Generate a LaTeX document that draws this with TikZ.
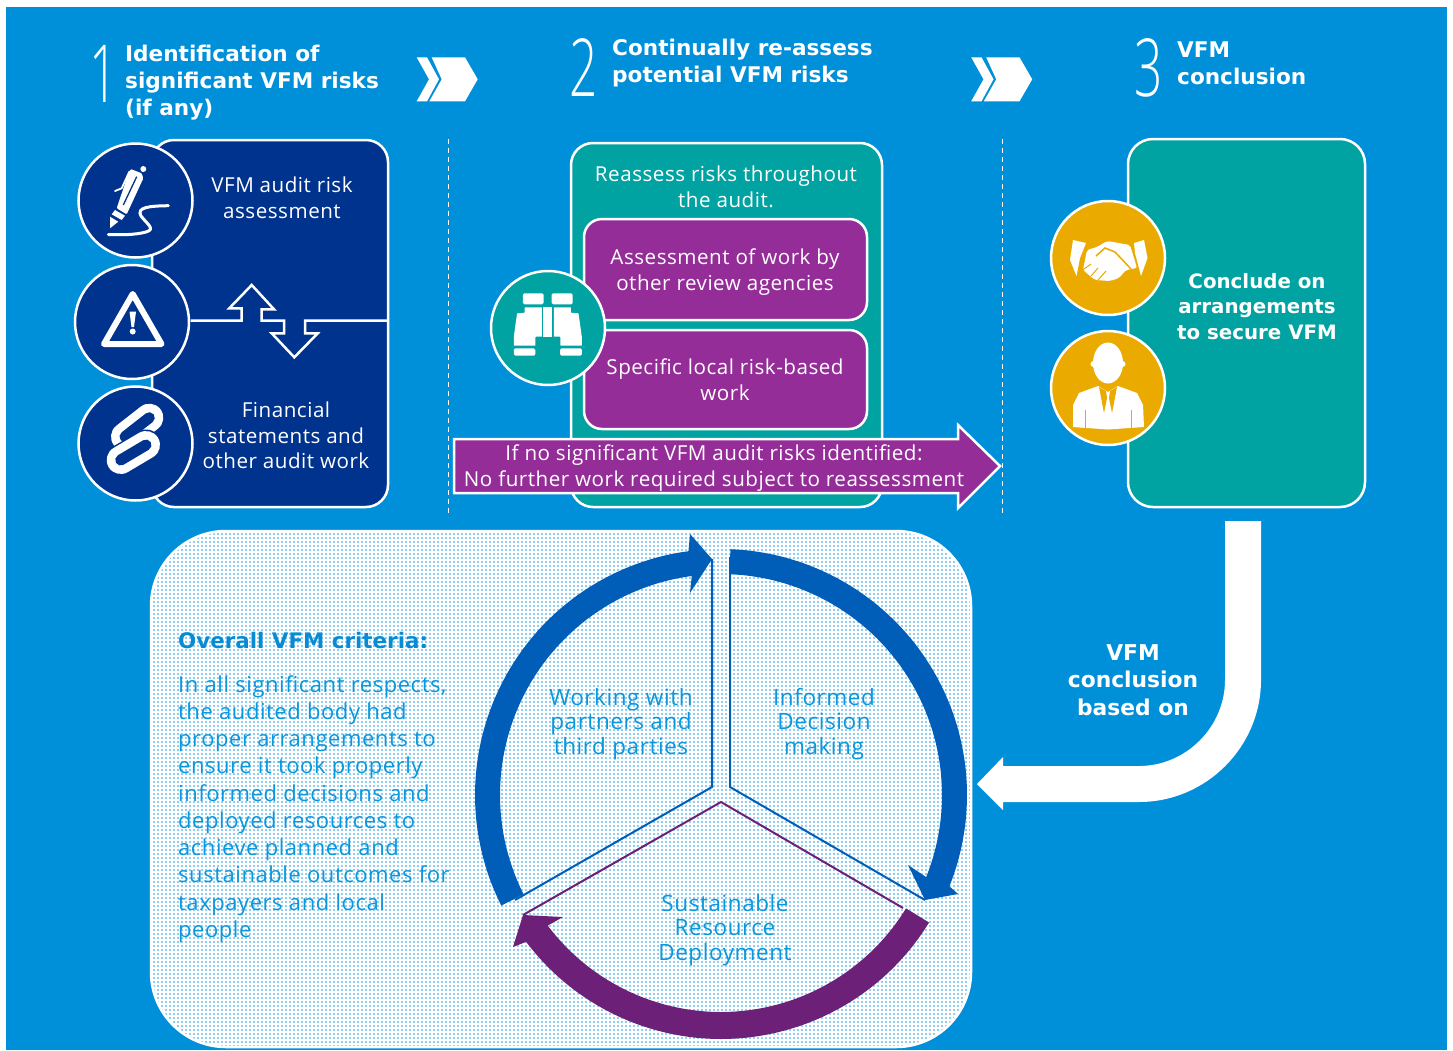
\documentclass[tikz,border=0pt]{standalone}
\usepackage{fontspec}
\setmainfont{Open Sans}[LetterSpace=2.5]
\newfontfamily\headfont{DejaVu Sans}[BoldFont={DejaVu Sans Bold}]
\newfontfamily\numfont{Open Sans Light}
\definecolor{bgblue}{HTML}{0090DA}
\definecolor{navy}{HTML}{00338D}
\definecolor{teal}{HTML}{00A3A1}
\definecolor{purp}{HTML}{952D98}
\definecolor{dpurp}{HTML}{6D2077}
\definecolor{ring}{HTML}{005EB8}
\definecolor{gold}{HTML}{EAAA00}
\definecolor{lblue}{HTML}{8FCDF2}
\definecolor{ltext}{HTML}{0A97DC}
\tikzset{
  bodytxt/.style={align=center,text=white,inner sep=0pt,font=\fontsize{20.6}{25.6}\selectfont},
  headtxt/.style={align=left,anchor=west,text=white,inner sep=0pt,font=\headfont\bfseries\fontsize{21.6}{27}\selectfont},
  boldtxt/.style={align=center,text=white,inner sep=0pt,font=\headfont\bfseries\fontsize{19.8}{25.6}\selectfont},
  numtxt/.style={text=white,inner sep=0pt,font=\numfont\fontsize{80}{80}\selectfont},
  cardbox/.style={draw=white,line width=2.5pt,rounded corners=22pt},
  badge/.style={circle,draw=white,line width=2.5pt,minimum size=114pt,inner sep=0pt},
  segtxt/.style={align=center,text=ltext,inner sep=0pt,font=\fontsize{22.5}{24.6}\selectfont},
  rail/.style={ring,line width=2pt},
  railp/.style={dpurp,line width=2pt},
  dashline/.style={white,line width=1pt,dash pattern=on 5pt off 4pt},
  chev/.style={fill=white,draw=none},
}
\begin{document}
\begin{tikzpicture}[x=1pt,y=-1pt]
\useasboundingbox (0,0) rectangle (1453,1050);
\fill[white] (0,0) rectangle (1453,1050);
\fill[bgblue] (6,7) rectangle (1447,1050);

% headings
\node[numtxt,xscale=.62] (n1) at (104,74) {1};
\node[headtxt] (h1) at (125,82.5) {Identification of\\significant VFM risks\\(if any)};
\node[numtxt,xscale=.62] (n2) at (584,68) {2};
\node[headtxt] (h2) at (612,63.5) {Continually re-assess\\potential VFM risks};
\node[numtxt,xscale=.62] (n3) at (1149,68) {3};
\node[headtxt] (h3) at (1177,63) {VFM\\conclusion};

% chevrons
\foreach \d in {0,554.5}{
\begin{scope}[xshift=\d pt]
\fill[chev] (416.7,57.3)--(427,57.3)--(439,79.3)--(427,101.3)--(416.7,101.3)--(429,79.3)--cycle;
\fill[chev] (431.7,57.3)--(465,57.3)--(477.7,79.3)--(465,101.3)--(429.3,101.3)--(441.7,79.3)--cycle;
\end{scope}}

% dashed separators
\draw[dashline] (448,139)--(448,517);
\draw[dashline] (1002,139)--(1002,517);

% card 1
\draw[cardbox,fill=navy] (152,140) rectangle (388,507);
\node[bodytxt] (c1a) at (282,198) {VFM audit risk\\assessment};
\node[bodytxt] (c1b) at (286,435.5) {Financial\\statements and\\other audit work};
\draw[white,line width=2.5pt,miter limit=10] (190.7,320.7)--(241.7,320.7)--(241.7,308.3)--(229.3,308.3)--(251.7,285)--(274,309.3)--(261.7,309.3)--(261.7,320.7)--(284,320.7)--(284,333.3)--(271.7,333.3)--(294.3,357.3)--(317.7,333.3)--(305,333.3)--(305,320.7)--(388,320.7);
\node[badge,fill=navy] (b1) at (135.5,200.5) {};
\node[badge,fill=navy] (b2) at (132,322) {};
\node[badge,fill=navy] (b3) at (135.5,443.5) {};
% pen
\fill[white] (110,228.3)--(110,216.7)--(118.3,221.7)--cycle;
\fill[white] (111.7,214.3)--(115,210)--(125,215.7)--(121.7,220)--cycle;
\fill[white,rounded corners=1pt] (116.7,208.3)--(127.3,176.7)--(130.7,169)--(141.7,173.3)--(143.3,178.3)--(126.7,214.3)--cycle;
\fill[white] (143.3,169) circle (3pt);
\draw[navy,line width=1.3pt] (123.3,205)--(136.7,176.7);
\draw[white,line width=1.8pt,line cap=round] (115,191)--(121.7,188.3)--(129.3,171.7);
\draw[white,line width=3pt,line cap=round] (168.3,205.7) .. controls (150,206) and (136,207) .. (141,216) .. controls (147,224) and (156,229) .. (146,232) .. controls (135,235) and (120,235) .. (108.3,234.5);
% warning
\draw[white,line width=6pt,line join=round] (132.7,294)--(104,344)--(161.5,344)--cycle;
\fill[white] (129.5,311.7)--(136,311.7)--(134,327)--(131.5,327)--cycle;
\fill[white] (132.7,331.5) circle (3pt);
% link
\draw[white,line width=28pt,line cap=round] (125,436.7)--(149.3,417.7);
\draw[navy,line width=11pt,line cap=round] (125,436.7)--(149.3,417.7);
\draw[navy,line width=31pt,line cap=round] (120.7,460)--(146,445);
\draw[white,line width=28pt,line cap=round] (120.7,460)--(146,445);
\draw[navy,line width=11pt,line cap=round] (120.7,460)--(146,445);

% card 2
\draw[cardbox,fill=teal] (571,143) rectangle (882,507);
\node[bodytxt] (c2t) at (726,187) {Reassess risks throughout\\the audit.};
\draw[cardbox,fill=purp,rounded corners=18pt] (584,219) rectangle (867,320);
\node[bodytxt] (c2a) at (725,272) {Assessment of work by\\other review agencies};
\draw[cardbox,fill=purp,rounded corners=18pt] (584,330) rectangle (867,429);
\node[bodytxt] (c2b) at (725,380) {Specific local risk-based\\work};
\node[badge,fill=teal] (b4) at (548,328) {};
% binoculars
\fill[white,rounded corners=1.5pt] (522.9,293.3) rectangle (543.6,304.3);
\fill[white,rounded corners=1.5pt] (551.6,293.3) rectangle (572.7,304.3);
\fill[white,rounded corners=.5pt] (524.7,307.3)--(541.8,307.3)--(541.8,336.7)--(535.3,336.7)--(535.3,345.7)--(513.8,345.7)--(513.8,336.7)--(517.1,313.3)--(524.7,312.7)--cycle;
\fill[white,rounded corners=.5pt] (570.9,307.3)--(553.8,307.3)--(553.8,336.7)--(560.4,336.7)--(560.4,345.7)--(581.8,345.7)--(581.8,336.7)--(578.5,313.3)--(570.9,312.7)--cycle;
\fill[white] (543.3,307.3) rectangle (552,336.7);
\fill[white,rounded corners=1.5pt] (513.8,348.3) rectangle (535.3,355.7);
\fill[white,rounded corners=1.5pt] (560,348.3) rectangle (581.8,355.7);

% long arrow
\draw[white,line width=2.5pt,fill=purp,miter limit=10] (454,439)--(958,439)--(958,425)--(1000,466)--(958,508)--(958,493)--(454,493)--cycle;
\node[bodytxt] (arrowtxt) at (714,468) {If no significant VFM audit risks identified:\\No further work required subject to reassessment};

% card 3
\draw[cardbox,fill=teal,rounded corners=25pt] (1128,139) rectangle (1365,507);
\node[boldtxt] (c3) at (1257,306.5) {Conclude on\\arrangements\\to secure VFM};
\node[badge,fill=gold] (b5) at (1108,258) {};
\node[badge,fill=gold] (b6) at (1108,388) {};
% handshake
\fill[white] (1073,240)--(1086,243)--(1080,258)--(1076.5,276)--(1070,260)--cycle;
\fill[white] (1134,243)--(1144,240)--(1147.5,258)--(1141,276)--(1135,253)--cycle;
\fill[white,rounded corners=2pt] (1087,250)--(1097,247)--(1107,241)--(1130,245)--(1137,268)--(1126,270)--(1119,278)--(1110,281)--(1095,280)--(1083,270)--cycle;
\draw[gold,line width=1.5pt] (1096,256)--(1105,248)--(1115,252)--(1131,269);
\draw[gold,line width=1pt] (1084,269)--(1091,264) (1091,276)--(1098,268) (1098,280)--(1106,271);
% person
\fill[white] (1108,363) ellipse (15pt and 20.5pt);
\fill[white] (1093.5,364) circle (3pt) (1122.5,364) circle (3pt);
\fill[white] (1073,427)--(1073,405)--(1079,393)--(1098,386)--(1108,392)--(1118,386)--(1137,393)--(1143,405)--(1144,427)--(1108,429.5)--cycle;
\fill[gold] (1099,387)--(1104,413)--(1107,398)--(1106,391)--cycle;
\fill[gold] (1117,387)--(1112,413)--(1109,398)--(1110,391)--cycle;
\draw[gold,line width=.8pt] (1085,410)--(1085,428) (1131,410)--(1131,428);

% white big arrow
\fill[white] (1225,521)--(1261,521)--(1261,680) .. controls (1261,747) and (1206,802) .. (1139,802)--(1003,802)--(1003,810)--(977,784)--(1003,757)--(1003,766)--(1139,766) .. controls (1186,766) and (1225,727) .. (1225,680)--cycle;
\node[boldtxt,font=\headfont\bfseries\fontsize{21.8}{27.5}\selectfont] (vfmc) at (1133,680) {VFM\\conclusion\\based on};

% panel
\begin{scope}
\clip[rounded corners=75pt] (151,531) rectangle (971,1047);
\fill[lblue] (151,531) rectangle (971,1047);
\draw[white,line width=1.5pt] (150,530) grid[step=4pt] (972,1048);
\end{scope}
\draw[white,line width=2.5pt,rounded corners=75pt] (151,531) rectangle (971,1047);

\node[anchor=west,text=ltext!80!ring,inner sep=0pt,font=\headfont\bfseries\fontsize{21.4}{24}\selectfont] (ovh) at (178,641) {Overall VFM criteria:};
\node[anchor=west,align=left,text=ltext,inner sep=0pt,font=\fontsize{22}{27.25}\selectfont] (ovb) at (178,809) {In all significant respects,\\the audited body had\\proper arrangements to\\ensure it took properly\\informed decisions and\\deployed resources to\\achieve planned and\\sustainable outcomes for\\taxpayers and local\\people};

% ring arrows
\fill[ring] plot[domain=-87.8:21.8,samples=60] ({721+246*cos(\x)},{795+246*sin(\x)})
  -- (958,894) -- (925,900) -- (908,865)
  -- plot[domain=21.8:-87.8,samples=60] ({721+221*cos(\x)},{795+221*sin(\x)}) -- cycle;
\fill[ring] plot[domain=153.3:262.4,samples=60] ({721+246*cos(\x)},{795+246*sin(\x)})
  -- (690,534) -- (712,559) -- (690,593)
  -- plot[domain=262.4:153.3,samples=60] ({721+221*cos(\x)},{795+221*sin(\x)}) -- cycle;
\fill[dpurp] plot[domain=31.5:143,samples=60] ({721+244*cos(\x)},{795+244*sin(\x)})
  -- (513,947) -- (523,915) -- (563,917)
  -- plot[domain=143:31.5,samples=60] ({721+217*cos(\x)},{795+217*sin(\x)}) -- cycle;
\draw[rail] (730,557)--(730,787)--(925,900);
\draw[rail] (712,559)--(712,787)--(515,900);
\draw[railp] (523,915)--(721,802)--(903,908);

\node[segtxt] (s1) at (621,724) {Working with\\partners and\\third parties};
\node[segtxt] (s2) at (824,724) {Informed\\Decision\\making};
\node[segtxt] (s3) at (725,930) {Sustainable\\Resource\\Deployment};
\end{tikzpicture}
\end{document}
